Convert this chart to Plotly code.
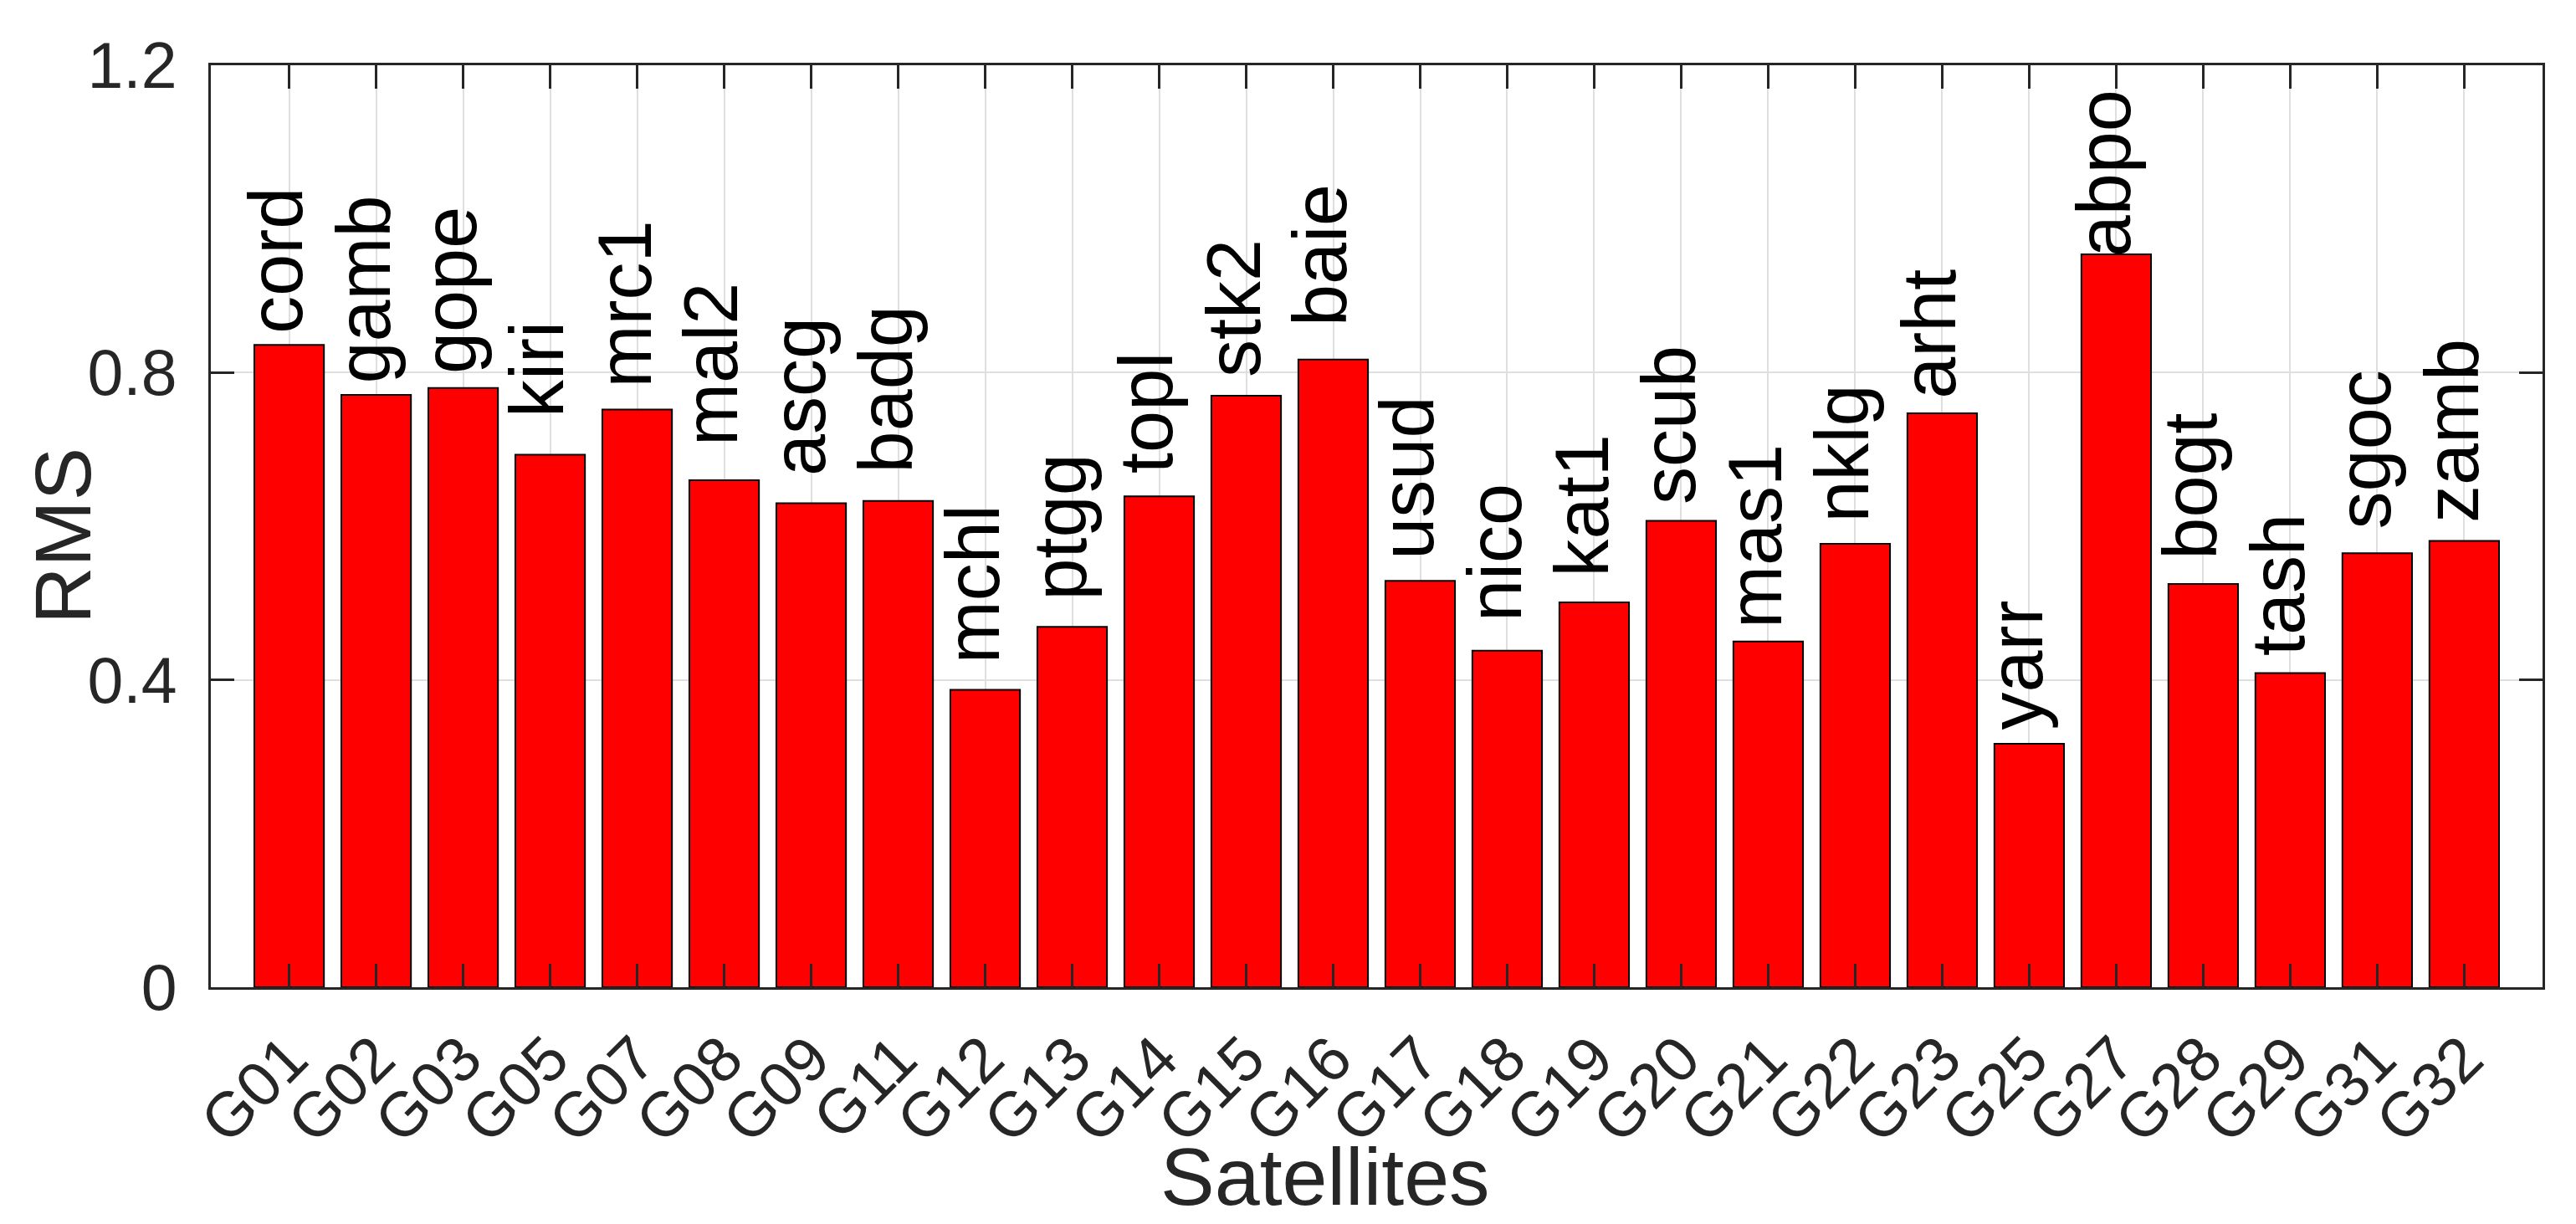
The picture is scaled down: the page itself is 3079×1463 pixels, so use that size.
import plotly.graph_objects as go

satellites = ["G01", "G02", "G03", "G05", "G07", "G08", "G09", "G11", "G12", "G13",
              "G14", "G15", "G16", "G17", "G18", "G19", "G20", "G21", "G22", "G23",
              "G25", "G27", "G28", "G29", "G31", "G32"]
stations = ["cord", "gamb", "gope", "kiri", "mrc1", "mal2", "ascg", "badg", "mchl", "ptgg",
            "topl", "stk2", "baie", "usud", "nico", "kat1", "scub", "mas1", "nklg", "arht",
            "yarr", "abpo", "bogt", "tash", "sgoc", "zamb"]
rms = [0.836, 0.771, 0.780, 0.693, 0.752, 0.660, 0.630, 0.633, 0.387, 0.469,
       0.639, 0.770, 0.817, 0.529, 0.438, 0.501, 0.607, 0.450, 0.577, 0.747,
       0.317, 0.954, 0.525, 0.409, 0.565, 0.581]
# height (in RMS units) where each station label begins
label_y = [0.854, 0.789, 0.801, 0.745, 0.783, 0.708, 0.668, 0.672, 0.424, 0.507,
           0.672, 0.797, 0.863, 0.560, 0.479, 0.538, 0.632, 0.471, 0.608, 0.769,
           0.338, 0.954, 0.560, 0.435, 0.600, 0.608]
y_ticks = [0, 0.4, 0.8, 1.2]
y_tick_labels = ["0", "0.4", "0.8", "1.2"]

FONT = "Liberation Sans, Arial, Helvetica, sans-serif"
AX = "#262626"

W, H = 3079, 1463
L, R, T, B = 244, 48, 70, 291

fig = go.Figure()
fig.add_trace(go.Bar(
    x=satellites, y=rms,
    marker=dict(color="#FF0000", line=dict(color="#000000", width=2)),
    width=0.8,
    hoverinfo="skip",
))

annotations = []
for sat, name, ly in zip(satellites, stations, label_y):
    annotations.append(dict(
        x=sat, y=ly, xref="x", yref="y", text=name, showarrow=False,
        textangle=-90, xanchor="center", yanchor="bottom",
        xshift=-15, yshift=-5,
        font=dict(family=FONT, size=90, color="#000000"),
    ))

annotations += [
    dict(text="Satellites", xref="paper", yref="paper",
         x=(1576 - L) / (W - L - R), y=-(1398 - (H - B)) / (H - T - B),
         xanchor="center", yanchor="middle", showarrow=False,
         font=dict(family=FONT, size=97, color=AX)),
    dict(text="RMS", xref="paper", yref="paper",
         x=(67 - L) / (W - L - R), y=((H - B) - 632) / (H - T - B),
         xanchor="center", yanchor="middle", showarrow=False, textangle=-90,
         font=dict(family=FONT, size=95, color=AX)),
]

n = len(satellites)
fig.update_layout(
    width=W, height=H,
    margin=dict(l=L, r=R, t=T, b=B, pad=0),
    paper_bgcolor="white", plot_bgcolor="white",
    showlegend=False,
    font=dict(family=FONT, color=AX),
    xaxis=dict(
        type="category",
        range=[-0.9, n - 1 + 0.9],
        showline=True, linecolor=AX, linewidth=3, mirror="ticks",
        ticks="inside", ticklen=28, tickwidth=3, tickcolor=AX,
        showgrid=True, gridcolor="#DFDFDF", gridwidth=2,
        tickangle=-45, tickfont=dict(family=FONT, size=75, color=AX),
        ticklabelstandoff=8,
        zeroline=False,
    ),
    yaxis=dict(
        range=[0, 1.2],
        tickvals=y_ticks, ticktext=y_tick_labels,
        showline=True, linecolor=AX, linewidth=3, mirror="ticks",
        ticks="inside", ticklen=28, tickwidth=3, tickcolor=AX,
        showgrid=True, gridcolor="#DFDFDF", gridwidth=2,
        tickfont=dict(family=FONT, size=77, color=AX),
        ticklabelstandoff=22,
        zeroline=False,
    ),
    annotations=annotations,
)

fig.write_html("out.html")
